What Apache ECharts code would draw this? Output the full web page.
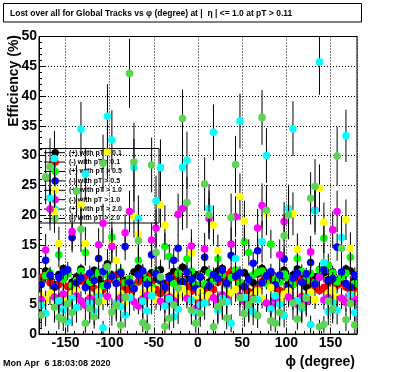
<!DOCTYPE html>
<html><head><meta charset="utf-8">
<script src="https://cdn.jsdelivr.net/npm/echarts@6/dist/echarts.min.js"></script>
<style>html,body{margin:0;padding:0;background:#fff}#c{width:396px;height:372px}</style>
</head><body><div id="c"></div>
<script>
// bin centres (degrees)
const phi = [-177.5,-172.5,-167.5,-162.5,-157.5,-152.5,-147.5,-142.5,-137.5,-132.5,-127.5,-122.5,
 -117.5,-112.5,-107.5,-102.5,-97.5,-92.5,-87.5,-82.5,-77.5,-72.5,-67.5,-62.5,
 -57.5,-52.5,-47.5,-42.5,-37.5,-32.5,-27.5,-22.5,-17.5,-12.5,-7.5,-2.5,
 2.5,7.5,12.5,17.5,22.5,27.5,32.5,37.5,42.5,47.5,52.5,57.5,
 62.5,67.5,72.5,77.5,82.5,87.5,92.5,97.5,102.5,107.5,112.5,117.5,
 122.5,127.5,132.5,137.5,142.5,147.5,152.5,157.5,162.5,167.5,172.5,177.5];

const names = ['(+) with pT > 0.1','(-) with pT > 0.1','(+) with pT > 0.5','(-) with pT > 0.5',
 '(+) with pT > 1.0','(-) with pT > 1.0','(+) with pT > 2.0','(-) with pT > 2.0'];

const posPt01 = [9.1,10.6,9.4,8.3,10.0,11.0, 10.2,8.7,9.6,10.9,8.9,9.8, 10.7,9.3,8.4,11.8,9.9,8.6,
 10.1,9.0,8.2,10.4,11.1,9.5, 8.8,10.3,9.2,10.8,8.5,9.7, 10.5,8.9,11.2,9.3,8.1,10.0,
 9.6,10.8,8.7,9.2,10.6,11.0, 8.9,9.9,10.7,8.4,10.3,9.5, 8.6,10.1,11.0,9.4,10.2,8.8,
 9.3,10.7,8.5,9.9,10.9,8.8, 7.9,8.6,9.6,10.8,10.3,9.1, 10.4,8.9,9.7,10.9,10.6,9.2];
const negPt01 = [9.5,9.9,8.6,7.8,8.3,9.2, 8.0,7.1,7.6,8.9,9.5,8.5, 7.7,6.9,7.5,8.6,9.3,9.9,
 8.7,7.8,7.0,7.6,8.8,9.6, 9.8,8.4,7.5,6.8,7.4,8.7, 9.4,10.0,9.1,7.9,7.2,7.9,
 8.1,7.3,6.8,7.5,8.7,9.5, 9.9,10.5,9.5,8.6,7.8,7.1, 6.9,7.6,8.8,9.6,9.2,7.8,
 7.3,6.9,7.4,8.3,9.1,9.7, 9.2,8.8,8.0,7.3,7.8,8.6, 9.1,8.2,8.5,7.9,7.2,7.6];
const posPt05 = [8.4,9.8,10.3,7.9,13.3,9.2, 10.1,8.2,9.0,10.6,13.7,8.7, 9.5,10.4,8.1,9.9,16.3,8.8,
 10.5,8.6,9.3,7.8,12.4,10.2, 9.1,7.9,10.4,8.8,14.7,13.0, 8.5,10.2,9.0,12.6,10.6,8.3,
 9.7,8.4,10.3,8.9,12.6,10.0, 8.2,9.5,10.7,8.6,15.5,13.7, 9.9,10.4,10.6,8.5,15.1,9.2,
 8.7,10.1,9.4,8.3,12.7,10.5, 9.0,10.2,8.6,10.8,16.1,11.6, 10.3,8.8,9.6,10.2,12.9,8.5];
const negPt05 = [8.3,12.4,9.9,7.9,9.5,10.4, 10.8,16.2,8.6,9.4,7.8,10.2, 9.0,12.7,10.5,8.2,9.7,8.5,
 10.3,14.7,8.7,7.6,9.9,10.6, 8.4,13.3,10.1,9.0,7.9,9.4, 12.4,14.4,8.8,10.4,9.2,7.7,
 9.6,12.9,8.1,10.0,9.3,10.7, 8.5,13.2,9.7,10.3,8.0,9.1, 11.9,14.0,8.6,9.8,10.5,8.3,
 9.9,12.6,7.8,9.4,10.2,8.7, 10.1,12.0,8.4,9.6,10.8,8.9, 9.3,14.6,10.4,8.5,7.9,9.9];
const posPt10 = [6.4,5.7,6.9,20.6,15.2,6.1, 5.5,6.8,7.3,21.7,15.2,6.2, 6.0,7.1,5.6,30.6,15.0,12.4,
 6.7,5.4,6.3,19.7,16.8,7.0, 6.2,7.4,5.7,21.7,18.3,6.6, 5.9,6.5,7.6,6.8,13.6,5.8,
 7.2,6.0,6.6,18.3,14.0,6.3, 5.8,6.9,7.5,23.1,19.0,6.1, 6.6,7.3,6.0,20.3,7.8,6.4,
 5.6,6.7,7.2,20.2,14.2,6.5, 6.3,7.0,5.8,24.5,18.8,6.9, 7.4,6.2,5.9,19.2,14.4,6.6];
const negPt10 = [5.8,14.1,21.0,6.2,5.3,6.7, 5.1,17.2,6.4,5.6,4.8,6.0, 5.7,15.0,18.6,6.3,14.7,5.2,
 6.1,17.0,20.6,5.4,4.7,5.9, 6.5,15.8,17.8,5.5,5.0,6.2, 5.6,20.1,21.1,6.0,14.8,4.3,
 5.3,14.3,19.4,6.1,5.2,6.6, 5.9,15.1,19.7,6.4,5.5,4.9, 6.0,17.8,21.6,5.2,4.7,5.8,
 13.3,18.9,6.2,5.6,5.0,6.3, 5.4,13.8,20.8,9.6,5.7,6.1, 17.5,20.6,6.0,5.3,6.5,5.8];
const posPt20 = [4.8,3.5,22.9,29.5,5.6,4.1, 2.1,6.0,4.4,34.4,26.9,5.2, 3.8,6.3,1.0,36.6,32.6,5.1,
 4.6,3.2,6.1,28.0,19.4,5.5, 3.9,6.4,22.4,28.0,4.7,5.9, 2.9,4.2,28.0,29.2,5.7,3.6,
 4.9,5.2,21.1,33.9,4.0,6.0, 5.4,1.8,12.7,35.8,6.1,4.5, 3.7,5.8,15.5,30.0,4.2,6.4,
 5.0,3.1,21.1,34.5,5.6,4.3, 6.2,1.6,20.7,45.7,12.0,3.8, 5.3,4.0,16.2,33.3,6.6,3.6];
const negPt20 = [3.2,26.4,28.1,4.5,2.8,2.4, 5.1,3.6,24.0,17.6,1.8,4.3, 2.9,5.4,28.7,11.3,3.7,4.8,
 1.5,6.2,43.8,28.9,15.7,1.9, 1.2,28.4,13.7,9.6,1.3,2.6, 4.9,7.7,36.2,22.1,4.0,1.8,
 3.5,25.2,20.0,1.2,4.6,5.3, 2.7,19.6,28.5,6.1,3.4,4.9, 5.8,3.1,36.4,20.8,2.2,1.8,
 3.6,16.5,20.0,5.2,2.5,4.7, 6.0,22.8,24.8,1.2,1.6,5.5, 4.2,29.9,14.4,2.4,5.1,1.5];

// statistical errors (half-length of error bars)
const errPosPt01 = [0.6,0.7,0.6,0.8,0.6,0.7, 0.7,0.6,0.8,0.6,0.7,0.6, 0.6,0.7,0.6,1.0,0.7,0.6, 0.8,0.6,0.7,0.6,0.7,0.8, 0.6,0.7,0.6,0.8,0.6,0.7, 0.7,0.6,0.8,0.7,0.6,0.6, 0.6,0.7,0.7,0.6,0.8,0.7, 0.7,0.6,0.6,0.8,0.7,0.6, 0.6,0.7,0.8,0.6,0.7,0.6, 0.7,0.6,0.6,0.7,0.8,0.6, 0.6,0.7,0.6,0.8,0.7,0.6, 0.7,0.6,0.7,0.8,0.6,0.7];
const errNegPt01 = [0.7,0.6,0.6,0.7,0.8,0.6, 0.6,0.7,0.6,0.6,0.7,0.8, 0.7,0.6,0.7,0.6,0.6,0.7, 0.6,0.8,0.7,0.6,0.7,0.6, 0.7,0.6,0.6,0.8,0.7,0.6, 0.6,0.7,0.7,0.6,0.6,0.8, 0.7,0.6,0.8,0.7,0.6,0.6, 0.6,0.8,0.7,0.6,0.7,0.6, 0.7,0.6,0.6,0.7,0.6,0.8, 0.6,0.7,0.7,0.6,0.8,0.6, 0.7,0.6,0.6,0.7,0.6,0.7, 0.6,0.8,0.6,0.7,0.7,0.6];
const errPosPt05 = [1.1,1.2,1.0,1.3,2.1,1.2, 1.0,1.3,1.1,1.2,2.2,1.1, 1.2,1.0,1.3,1.1,2.6,1.2, 1.3,1.1,1.0,1.2,2.0,1.3, 1.1,1.2,1.0,1.3,2.3,2.1, 1.2,1.1,1.3,2.0,1.0,1.2, 1.1,1.3,1.2,1.0,2.0,1.1, 1.2,1.0,1.1,1.3,2.4,2.2, 1.3,1.1,1.2,1.0,2.4,1.2, 1.0,1.2,1.3,1.1,2.0,1.2, 1.1,1.3,1.0,1.2,2.5,1.9, 1.2,1.1,1.3,1.0,2.1,1.2];
const errNegPt05 = [1.2,2.0,1.1,1.3,1.0,1.2, 1.3,2.5,1.2,1.0,1.1,1.3, 1.1,2.0,1.2,1.3,1.0,1.1, 1.2,2.3,1.0,1.1,1.3,1.2, 1.0,2.1,1.2,1.3,1.1,1.0, 2.0,2.3,1.2,1.1,1.3,1.2, 1.1,2.0,1.0,1.2,1.3,1.1, 1.2,2.1,1.3,1.1,1.0,1.2, 1.9,2.2,1.1,1.2,1.3,1.0, 1.2,2.0,1.1,1.3,1.2,1.1, 1.0,1.9,1.2,1.1,1.3,1.2, 1.1,2.3,1.0,1.2,1.1,1.3];
const errPosPt10 = [1.8,1.6,2.0,3.6,2.8,1.7, 1.6,1.9,2.1,3.8,2.8,1.8, 1.7,2.0,1.6,4.6,2.8,2.4, 1.9,1.6,1.8,3.5,3.0,2.0, 1.8,2.1,1.6,3.8,3.3,1.9, 1.7,1.8,2.1,2.0,2.6,1.8, 2.0,1.7,1.9,3.3,2.7,1.8, 1.6,1.9,2.1,3.9,3.4,1.8, 1.9,2.0,1.7,3.6,2.2,1.8, 1.7,1.9,2.0,3.6,2.7,1.8, 1.8,2.0,1.6,4.0,3.3,1.9, 2.1,1.8,1.7,3.4,2.7,1.9];
const errNegPt10 = [1.6,2.7,3.6,1.7,1.5,1.8, 1.4,3.1,1.7,1.6,1.4,1.7, 1.6,2.8,3.3,1.7,2.8,1.5, 1.7,3.1,3.5,1.5,1.4,1.6, 1.8,2.9,3.2,1.6,1.5,1.7, 1.6,3.5,3.6,1.7,2.8,1.4, 1.5,2.7,3.4,1.7,1.5,1.8, 1.6,2.8,3.4,1.8,1.6,1.4, 1.7,3.2,3.7,1.5,1.4,1.6, 2.6,3.3,1.7,1.6,1.5,1.7, 1.5,2.7,3.6,2.2,1.6,1.7, 3.1,3.5,1.7,1.5,1.8,1.6];
const errPosPt20 = [2.6,2.2,4.2,4.6,2.8,2.4, 1.8,3.0,2.5,4.6,4.4,2.7, 2.3,3.1,1.2,5.4,5.0,2.6, 2.5,2.1,3.0,4.8,3.9,2.8, 2.3,3.1,4.2,4.7,2.6,2.9, 1.9,2.5,4.7,4.8,2.8,2.2, 2.7,2.8,4.1,4.7,2.4,3.0, 2.8,1.5,3.3,4.6,3.0,2.6, 2.2,2.9,3.5,4.6,2.5,3.1, 2.7,2.0,4.0,4.6,2.8,2.5, 3.0,1.5,4.0,5.5,3.3,2.3, 2.8,2.4,3.6,4.4,3.1,2.2];
const errNegPt20 = [2.2,4.6,4.8,2.6,2.0,1.9, 2.8,2.3,4.4,3.8,1.6,2.5, 2.0,2.9,4.8,3.0,2.3,2.7, 1.4,3.1,5.8,6.6,3.6,1.6, 1.2,4.6,3.3,2.9,1.3,1.9, 2.7,3.0,4.9,4.3,2.4,1.6, 2.3,4.5,4.1,1.2,2.6,2.9, 1.9,4.0,4.8,3.1,2.2,2.7, 3.0,2.1,4.6,4.2,1.7,1.5, 2.3,3.7,4.1,2.8,1.8,2.6, 3.1,4.4,4.6,1.2,1.4,2.9, 2.4,4.9,3.4,1.9,2.7,1.4];

const colors = ['#000000','#ff0000','#00ff00','#0000ff','#ffff00','#ff00ff','#00ffff','#59d454'];
const valueSets = [posPt01,negPt01,posPt05,negPt05,posPt10,negPt10,posPt20,negPt20];
const errorSets = [errPosPt01,errNegPt01,errPosPt05,errNegPt05,errPosPt10,errNegPt10,errPosPt20,errNegPt20];

const FONT = '"Liberation Sans", Arial, Helvetica, sans-serif';

function renderItem(params, api) {
  const x = api.value(0), y = api.value(1), e = api.value(2);
  const p = api.coord([x, y]);
  const lo = api.coord([x, y - e]);
  const hi = api.coord([x, y + e]);
  return {
    type: 'group',
    children: [
      {type: 'line', shape: {x1: p[0], y1: lo[1], x2: p[0], y2: hi[1]}, style: {stroke: '#000', lineWidth: 1}},
      {type: 'circle', shape: {cx: p[0], cy: p[1], r: 3.8}, style: {fill: api.visual('color')}}
    ]
  };
}

const series = names.map((n, k) => ({
  name: n,
  type: 'custom',
  renderItem: renderItem,
  clip: true,
  itemStyle: {color: colors[k]},
  encode: {x: 0, y: 1},
  data: phi.map((p, i) => [p, valueSets[k][i], errorSets[k][i]])
}));

// legend decorations (error-bar crosses) and boxes
const legendTop = 152.7, legendPitch = 9.4;
const graphics = [
  {type: 'rect', shape: {x: 3.5, y: 3.5, width: 358, height: 18.5}, style: {fill: 'none', stroke: '#000', lineWidth: 1}, z: 0},
  {type: 'rect', shape: {x: 39.5, y: 148.5, width: 119.5, height: 74.5}, style: {fill: 'none', stroke: '#000', lineWidth: 1}, z: 0},
  {type: 'text', x: 14, y: 35, rotation: Math.PI / 2, z: 10,
   style: {text: 'Efficiency (%)', font: 'bold 14px ' + FONT, fill: '#000', textAlign: 'right', textVerticalAlign: 'middle'}},
  {type: 'text', x: 355, y: 362.5, z: 10,
   style: {text: 'ϕ (degree)', font: 'bold 14px ' + FONT, fill: '#000', textAlign: 'right', textVerticalAlign: 'middle'}},
  {type: 'text', x: 3, y: 364, z: 10,
   style: {text: 'Mon Apr  6 18:03:08 2020', font: 'bold 9px ' + FONT, fill: '#000', textAlign: 'left', textVerticalAlign: 'middle'}}
];
for (let k = 0; k < names.length; k++) {
  const yc = legendTop + legendPitch * k;
  graphics.push({type: 'line', shape: {x1: 44, y1: yc, x2: 65, y2: yc}, style: {stroke: '#000', lineWidth: 1}, z: 0});
  graphics.push({type: 'line', shape: {x1: 55, y1: yc - 4.7, x2: 55, y2: yc + 4.7}, style: {stroke: '#000', lineWidth: 1}, z: 0});
}

const chart = echarts.init(document.getElementById('c'), null, {renderer: 'canvas'});
chart.setOption({
  animation: false,
  backgroundColor: '#fff',
  title: {
    text: 'Lost over all for Global Tracks vs φ (degree) at |  η | <= 1.0 at pT > 0.11',
    left: 10, top: 8.5, padding: 0,
    textStyle: {fontFamily: FONT, fontSize: 8.5, fontWeight: 'bold', color: '#000', lineHeight: 10}
  },
  grid: {left: 39, right: 39, top: 36.5, bottom: 38, show: true, borderColor: '#000', borderWidth: 1, backgroundColor: 'transparent'},
  legend: {
    orient: 'vertical', left: 51.5, top: legendTop - 3.7, padding: 0, z: 1,
    itemWidth: 7.4, itemHeight: 7.4, itemGap: 2, icon: 'circle', selectedMode: false,
    textStyle: {fontFamily: FONT, fontSize: 7, fontWeight: 'bold', color: '#000', lineHeight: 7.4, padding: [0, 0, 0, 5]},
    data: names
  },
  xAxis: {
    type: 'value', min: -180, max: 180, splitNumber: 7,
    axisLine: {show: true, onZero: false, lineStyle: {color: '#000', width: 1}},
    axisTick: {show: true, inside: true, length: 6, lineStyle: {color: '#000'}},
    minorTick: {show: true, splitNumber: 5, length: 3, lineStyle: {color: '#000'}},
    splitLine: {show: true, lineStyle: {color: '#000', type: [1, 2], width: 1}},
    axisLabel: {showMinLabel: false, showMaxLabel: false, margin: 2, fontFamily: FONT, fontSize: 14, fontWeight: 'bold', color: '#000'}
  },
  yAxis: {
    type: 'value', min: 0, max: 50, interval: 5,
    axisLine: {show: true, onZero: false, lineStyle: {color: '#000', width: 1}},
    axisTick: {show: true, inside: true, length: 6, lineStyle: {color: '#000'}},
    minorTick: {show: true, splitNumber: 5, length: 3, lineStyle: {color: '#000'}},
    splitLine: {show: true, lineStyle: {color: '#000', type: [1, 2], width: 1}},
    axisLabel: {margin: 2, fontFamily: FONT, fontSize: 14, fontWeight: 'bold', color: '#000'}
  },
  graphic: graphics,
  series: series
});
</script>
</body></html>
